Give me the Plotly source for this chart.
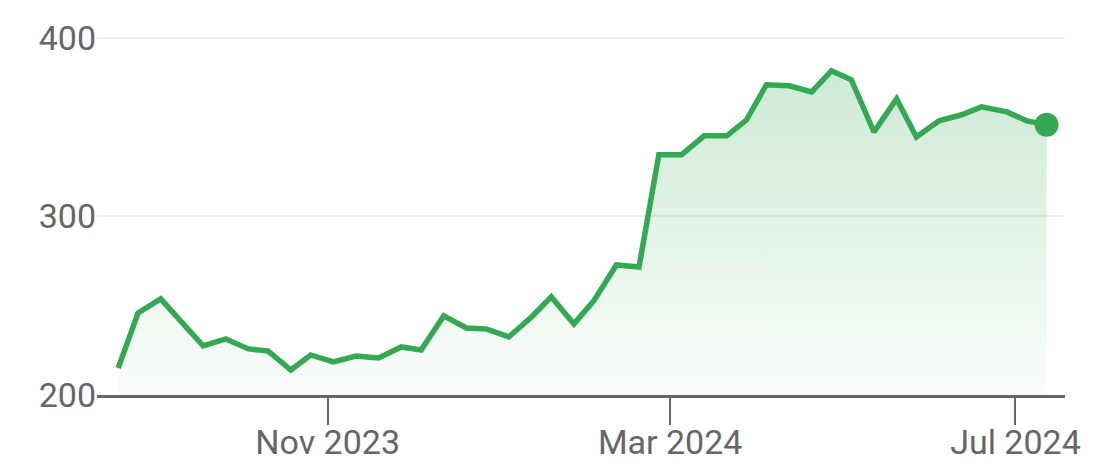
import plotly.graph_objects as go

dates = ["2023-08-19", "2023-08-26", "2023-09-03", "2023-09-11", "2023-09-18", "2023-09-26",
         "2023-10-04", "2023-10-11", "2023-10-19", "2023-10-26", "2023-11-03", "2023-11-11",
         "2023-11-19", "2023-11-27", "2023-12-04", "2023-12-12", "2023-12-20", "2023-12-27",
         "2024-01-04", "2024-01-12", "2024-01-19", "2024-01-27", "2024-02-03", "2024-02-11",
         "2024-02-19", "2024-02-26", "2024-03-05", "2024-03-13", "2024-03-21", "2024-03-28",
         "2024-04-04", "2024-04-12", "2024-04-20", "2024-04-27", "2024-05-04", "2024-05-12",
         "2024-05-20", "2024-05-27", "2024-06-04", "2024-06-12", "2024-06-19", "2024-06-28",
         "2024-07-05", "2024-07-12"]
values = [215.1, 245.9, 253.8, 239.2, 227.5, 231.4, 225.8, 224.6, 214.0, 222.4, 218.5, 221.8,
          220.7, 226.9, 225.2, 244.3, 237.5, 237.0, 232.5, 243.7, 254.9, 239.8, 252.7, 272.8,
          271.7, 334.5, 334.5, 345.1, 345.1, 354.1, 373.7, 373.1, 369.7, 381.5, 376.5, 347.3,
          365.8, 344.5, 353.5, 356.9, 361.3, 358.5, 353.5, 351.3]

x_tick_vals = ["2023-11-01", "2024-03-01", "2024-07-01"]
x_tick_text = ["Nov 2023", "Mar 2024", "Jul 2024"]
y_tick_vals = [200, 300, 400]

GREEN = "#34a853"

fig = go.Figure()
fig.add_trace(go.Scatter(
    x=dates, y=values, mode="lines",
    line=dict(color=GREEN, width=5.5),
    fill="tozeroy",
    fillgradient=dict(type="vertical", start=200, stop=385,
                      colorscale=[[0, "rgba(52,168,83,0.02)"], [1, "rgba(52,168,83,0.25)"]]),
    hoverinfo="skip", showlegend=False,
))
fig.add_trace(go.Scatter(
    x=[dates[-1]], y=[values[-1]], mode="markers",
    marker=dict(color=GREEN, size=24),
    hoverinfo="skip", showlegend=False,
))

fig.update_layout(
    width=1115, height=465,
    margin=dict(l=97, r=50, t=36, b=70),
    paper_bgcolor="white", plot_bgcolor="white",
    font=dict(family="Roboto", size=34, color="#666666"),
    xaxis=dict(
        type="date", range=["2023-08-11 12:00", "2024-07-18 12:00"],
        tickvals=x_tick_vals, ticktext=x_tick_text,
        ticks="outside", ticklen=27, tickwidth=2, tickcolor="#666666",
        ticklabelstandoff=-12,
        showline=True, linecolor="#666666", linewidth=3,
        showgrid=False, zeroline=False, automargin=False,
    ),
    yaxis=dict(
        range=[200, 401], tickvals=y_tick_vals,
        showgrid=True, gridcolor="#eeeeee", gridwidth=2,
        zeroline=False, showline=False, ticks="", automargin=False,
    ),
)

fig.write_html("out.html")
